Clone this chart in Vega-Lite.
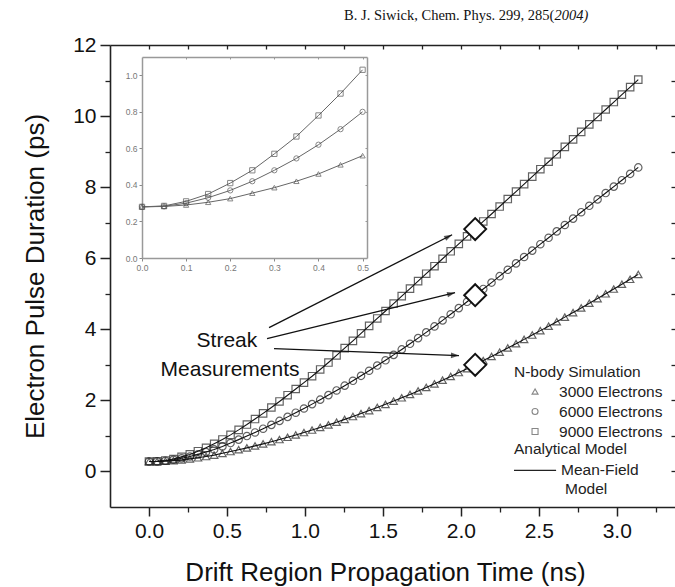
{
"$schema":"https://vega.github.io/schema/vega-lite/v6.json",
"width":566,"height":462,
"autosize":{"type":"none"},
"padding":{"left":110,"top":45,"right":0,"bottom":80},
"background":"white",
"config":{"view":{"stroke":null},"font":"Liberation Sans","axis":{"grid":false,"labelFont":"Liberation Sans","titleFont":"Liberation Sans","titleFontWeight":"normal","labelColor":"#111","titleColor":"#111","domainColor":"#222","tickColor":"#222"}},
"datasets":{
"main":[
{"x":0,"y":0.28,"n":"9000"},{"x":0.052,"y":0.285,"n":"9000"},{"x":0.105,"y":0.31,"n":"9000"},{"x":0.157,"y":0.35,"n":"9000"},{"x":0.209,"y":0.41,"n":"9000"},{"x":0.262,"y":0.48,"n":"9000"},{"x":0.314,"y":0.57,"n":"9000"},{"x":0.366,"y":0.665,"n":"9000"},{"x":0.418,"y":0.78,"n":"9000"},{"x":0.471,"y":0.9,"n":"9000"},{"x":0.523,"y":1.03,"n":"9000"},{"x":0.575,"y":1.17,"n":"9000"},{"x":0.628,"y":1.32,"n":"9000"},{"x":0.68,"y":1.475,"n":"9000"},{"x":0.732,"y":1.635,"n":"9000"},{"x":0.785,"y":1.8,"n":"9000"},{"x":0.837,"y":1.97,"n":"9000"},{"x":0.889,"y":2.145,"n":"9000"},{"x":0.941,"y":2.32,"n":"9000"},{"x":0.994,"y":2.5,"n":"9000"},{"x":1.046,"y":2.68,"n":"9000"},{"x":1.098,"y":2.87,"n":"9000"},{"x":1.151,"y":3.065,"n":"9000"},{"x":1.203,"y":3.265,"n":"9000"},{"x":1.255,"y":3.47,"n":"9000"},{"x":1.308,"y":3.675,"n":"9000"},{"x":1.36,"y":3.885,"n":"9000"},{"x":1.412,"y":4.095,"n":"9000"},{"x":1.464,"y":4.305,"n":"9000"},{"x":1.517,"y":4.515,"n":"9000"},{"x":1.569,"y":4.725,"n":"9000"},{"x":1.621,"y":4.935,"n":"9000"},{"x":1.674,"y":5.145,"n":"9000"},{"x":1.726,"y":5.355,"n":"9000"},{"x":1.778,"y":5.565,"n":"9000"},{"x":1.831,"y":5.775,"n":"9000"},{"x":1.883,"y":5.985,"n":"9000"},{"x":1.935,"y":6.195,"n":"9000"},{"x":1.987,"y":6.405,"n":"9000"},{"x":2.04,"y":6.615,"n":"9000"},{"x":2.092,"y":6.825,"n":"9000"},{"x":2.144,"y":7.035,"n":"9000"},{"x":2.197,"y":7.245,"n":"9000"},{"x":2.249,"y":7.455,"n":"9000"},{"x":2.301,"y":7.665,"n":"9000"},{"x":2.354,"y":7.875,"n":"9000"},{"x":2.406,"y":8.085,"n":"9000"},{"x":2.458,"y":8.295,"n":"9000"},{"x":2.51,"y":8.505,"n":"9000"},{"x":2.563,"y":8.715,"n":"9000"},{"x":2.615,"y":8.925,"n":"9000"},{"x":2.667,"y":9.135,"n":"9000"},{"x":2.72,"y":9.345,"n":"9000"},{"x":2.772,"y":9.555,"n":"9000"},{"x":2.824,"y":9.765,"n":"9000"},{"x":2.877,"y":9.975,"n":"9000"},{"x":2.929,"y":10.185,"n":"9000"},{"x":2.981,"y":10.395,"n":"9000"},{"x":3.033,"y":10.605,"n":"9000"},{"x":3.086,"y":10.815,"n":"9000"},{"x":3.138,"y":11.025,"n":"9000"},
{"x":0,"y":0.28,"n":"6000"},{"x":0.052,"y":0.283,"n":"6000"},{"x":0.105,"y":0.3,"n":"6000"},{"x":0.157,"y":0.33,"n":"6000"},{"x":0.209,"y":0.37,"n":"6000"},{"x":0.262,"y":0.42,"n":"6000"},{"x":0.314,"y":0.48,"n":"6000"},{"x":0.366,"y":0.545,"n":"6000"},{"x":0.418,"y":0.62,"n":"6000"},{"x":0.471,"y":0.705,"n":"6000"},{"x":0.523,"y":0.8,"n":"6000"},{"x":0.575,"y":0.896,"n":"6000"},{"x":0.628,"y":0.996,"n":"6000"},{"x":0.68,"y":1.098,"n":"6000"},{"x":0.732,"y":1.203,"n":"6000"},{"x":0.785,"y":1.311,"n":"6000"},{"x":0.837,"y":1.422,"n":"6000"},{"x":0.889,"y":1.536,"n":"6000"},{"x":0.941,"y":1.653,"n":"6000"},{"x":0.994,"y":1.772,"n":"6000"},{"x":1.046,"y":1.895,"n":"6000"},{"x":1.098,"y":2.02,"n":"6000"},{"x":1.151,"y":2.149,"n":"6000"},{"x":1.203,"y":2.28,"n":"6000"},{"x":1.255,"y":2.414,"n":"6000"},{"x":1.308,"y":2.551,"n":"6000"},{"x":1.36,"y":2.691,"n":"6000"},{"x":1.412,"y":2.834,"n":"6000"},{"x":1.464,"y":2.98,"n":"6000"},{"x":1.517,"y":3.128,"n":"6000"},{"x":1.569,"y":3.28,"n":"6000"},{"x":1.621,"y":3.434,"n":"6000"},{"x":1.674,"y":3.592,"n":"6000"},{"x":1.726,"y":3.752,"n":"6000"},{"x":1.778,"y":3.915,"n":"6000"},{"x":1.831,"y":4.081,"n":"6000"},{"x":1.883,"y":4.25,"n":"6000"},{"x":1.935,"y":4.422,"n":"6000"},{"x":1.987,"y":4.597,"n":"6000"},{"x":2.04,"y":4.774,"n":"6000"},{"x":2.092,"y":4.955,"n":"6000"},{"x":2.144,"y":5.135,"n":"6000"},{"x":2.197,"y":5.315,"n":"6000"},{"x":2.249,"y":5.495,"n":"6000"},{"x":2.301,"y":5.675,"n":"6000"},{"x":2.354,"y":5.855,"n":"6000"},{"x":2.406,"y":6.035,"n":"6000"},{"x":2.458,"y":6.215,"n":"6000"},{"x":2.51,"y":6.395,"n":"6000"},{"x":2.563,"y":6.575,"n":"6000"},{"x":2.615,"y":6.755,"n":"6000"},{"x":2.667,"y":6.935,"n":"6000"},{"x":2.72,"y":7.115,"n":"6000"},{"x":2.772,"y":7.295,"n":"6000"},{"x":2.824,"y":7.475,"n":"6000"},{"x":2.877,"y":7.655,"n":"6000"},{"x":2.929,"y":7.835,"n":"6000"},{"x":2.981,"y":8.015,"n":"6000"},{"x":3.033,"y":8.195,"n":"6000"},{"x":3.086,"y":8.375,"n":"6000"},{"x":3.138,"y":8.555,"n":"6000"},
{"x":0,"y":0.28,"n":"3000"},{"x":0.052,"y":0.282,"n":"3000"},{"x":0.105,"y":0.29,"n":"3000"},{"x":0.157,"y":0.305,"n":"3000"},{"x":0.209,"y":0.325,"n":"3000"},{"x":0.262,"y":0.355,"n":"3000"},{"x":0.314,"y":0.385,"n":"3000"},{"x":0.366,"y":0.42,"n":"3000"},{"x":0.418,"y":0.46,"n":"3000"},{"x":0.471,"y":0.51,"n":"3000"},{"x":0.523,"y":0.56,"n":"3000"},{"x":0.575,"y":0.611,"n":"3000"},{"x":0.628,"y":0.664,"n":"3000"},{"x":0.68,"y":0.719,"n":"3000"},{"x":0.732,"y":0.777,"n":"3000"},{"x":0.785,"y":0.836,"n":"3000"},{"x":0.837,"y":0.898,"n":"3000"},{"x":0.889,"y":0.961,"n":"3000"},{"x":0.941,"y":1.027,"n":"3000"},{"x":0.994,"y":1.095,"n":"3000"},{"x":1.046,"y":1.165,"n":"3000"},{"x":1.098,"y":1.237,"n":"3000"},{"x":1.151,"y":1.311,"n":"3000"},{"x":1.203,"y":1.387,"n":"3000"},{"x":1.255,"y":1.466,"n":"3000"},{"x":1.308,"y":1.546,"n":"3000"},{"x":1.36,"y":1.629,"n":"3000"},{"x":1.412,"y":1.713,"n":"3000"},{"x":1.464,"y":1.8,"n":"3000"},{"x":1.517,"y":1.889,"n":"3000"},{"x":1.569,"y":1.98,"n":"3000"},{"x":1.621,"y":2.073,"n":"3000"},{"x":1.674,"y":2.168,"n":"3000"},{"x":1.726,"y":2.265,"n":"3000"},{"x":1.778,"y":2.365,"n":"3000"},{"x":1.831,"y":2.466,"n":"3000"},{"x":1.883,"y":2.57,"n":"3000"},{"x":1.935,"y":2.675,"n":"3000"},{"x":1.987,"y":2.783,"n":"3000"},{"x":2.04,"y":2.893,"n":"3000"},{"x":2.092,"y":3.005,"n":"3000"},{"x":2.144,"y":3.121,"n":"3000"},{"x":2.197,"y":3.237,"n":"3000"},{"x":2.249,"y":3.355,"n":"3000"},{"x":2.301,"y":3.475,"n":"3000"},{"x":2.354,"y":3.595,"n":"3000"},{"x":2.406,"y":3.717,"n":"3000"},{"x":2.458,"y":3.839,"n":"3000"},{"x":2.51,"y":3.963,"n":"3000"},{"x":2.563,"y":4.089,"n":"3000"},{"x":2.615,"y":4.215,"n":"3000"},{"x":2.667,"y":4.343,"n":"3000"},{"x":2.72,"y":4.471,"n":"3000"},{"x":2.772,"y":4.601,"n":"3000"},{"x":2.824,"y":4.733,"n":"3000"},{"x":2.877,"y":4.865,"n":"3000"},{"x":2.929,"y":4.999,"n":"3000"},{"x":2.981,"y":5.133,"n":"3000"},{"x":3.033,"y":5.269,"n":"3000"},{"x":3.086,"y":5.407,"n":"3000"},{"x":3.138,"y":5.545,"n":"3000"}
],
"inset":[
{"x":0,"y":0.28,"n":"9000"},{"x":0.05,"y":0.285,"n":"9000"},{"x":0.1,"y":0.31,"n":"9000"},{"x":0.15,"y":0.35,"n":"9000"},{"x":0.2,"y":0.41,"n":"9000"},{"x":0.25,"y":0.48,"n":"9000"},{"x":0.3,"y":0.57,"n":"9000"},{"x":0.35,"y":0.665,"n":"9000"},{"x":0.4,"y":0.78,"n":"9000"},{"x":0.45,"y":0.9,"n":"9000"},{"x":0.5,"y":1.03,"n":"9000"},
{"x":0,"y":0.28,"n":"6000"},{"x":0.05,"y":0.283,"n":"6000"},{"x":0.1,"y":0.3,"n":"6000"},{"x":0.15,"y":0.33,"n":"6000"},{"x":0.2,"y":0.37,"n":"6000"},{"x":0.25,"y":0.42,"n":"6000"},{"x":0.3,"y":0.48,"n":"6000"},{"x":0.35,"y":0.545,"n":"6000"},{"x":0.4,"y":0.62,"n":"6000"},{"x":0.45,"y":0.705,"n":"6000"},{"x":0.5,"y":0.8,"n":"6000"},
{"x":0,"y":0.28,"n":"3000"},{"x":0.05,"y":0.282,"n":"3000"},{"x":0.1,"y":0.29,"n":"3000"},{"x":0.15,"y":0.305,"n":"3000"},{"x":0.2,"y":0.325,"n":"3000"},{"x":0.25,"y":0.355,"n":"3000"},{"x":0.3,"y":0.385,"n":"3000"},{"x":0.35,"y":0.42,"n":"3000"},{"x":0.4,"y":0.46,"n":"3000"},{"x":0.45,"y":0.51,"n":"3000"},{"x":0.5,"y":0.56,"n":"3000"}
],
"streak":[{"x":2.092,"y":6.82},{"x":2.092,"y":4.96},{"x":2.092,"y":3.0}],
"arrows":[{"id":1,"x":0.77,"y":4.047,"x2":1.944,"y2":6.661},{"id":2,"x":0.757,"y":3.738,"x2":1.963,"y2":5.031},{"id":3,"x":0.802,"y":3.457,"x2":1.988,"y2":3.26}],
"notes":[{"x":0.5,"y":3.51,"t":"Streak"},{"x":0.52,"y":2.7,"t":"Measurements"}],
"cite1":[{"x":2.6,"y":12.7,"t":"B. J. Siwick, Chem. Phys. 299, 285("}],
"cite2":[{"x":2.6,"y":12.7,"t":"2004)"}],
"legtext":[{"x":2.341,"y":2.81,"t":"N-body Simulation"},{"x":2.63,"y":2.248,"t":"3000 Electrons"},{"x":2.63,"y":1.686,"t":"6000 Electrons"},{"x":2.63,"y":1.124,"t":"9000 Electrons"},{"x":2.341,"y":0.618,"t":"Analytical Model"},{"x":2.643,"y":0.028,"t":"Mean-Field"},{"x":2.668,"y":-0.506,"t":"Model"}],
"legsym":[{"x":2.476,"y":2.248,"n":"3000"},{"x":2.476,"y":1.686,"n":"6000"},{"x":2.476,"y":1.124,"n":"9000"}],
"legline":[{"x":2.341,"x2":2.611,"y":0.028}]
},
"layer":[
{
"layer":[
{"data":{"name":"main"},"mark":{"type":"point","filled":false,"color":"#222","strokeWidth":1.2,"size":55},
"encoding":{
"x":{"field":"x","type":"quantitative","scale":{"domain":[-0.25,3.38],"nice":false,"zero":false},"axis":{"orient":"bottom","values":[0,0.5,1,1.5,2,2.5,3],"format":".1f","title":"Drift Region Propagation Time (ns)","titleFontSize":26,"titleX":275,"titleY":73,"titleBaseline":"alphabetic","labelFontSize":21,"labelPadding":4,"tickSize":9,"tickWidth":1.5,"domainWidth":1.6,"labelFlush":false,"labelOverlap":false}},
"y":{"field":"y","type":"quantitative","scale":{"domain":[-1,12],"nice":false,"zero":false},"axis":{"orient":"left","values":[0,2,4,6,8,10,12],"format":"d","title":"Electron Pulse Duration (ps)","titleFontSize":26,"titlePadding":24,"labelFontSize":21,"labelPadding":4,"tickSize":10,"tickWidth":1.5,"domainWidth":1.6,"labelOverlap":false}},
"shape":{"field":"n","type":"nominal","scale":{"domain":["3000","6000","9000"],"range":["triangle-up","circle","square"]},"legend":null}}},
{"data":{"name":"main"},"mark":{"type":"line","color":"#111","strokeWidth":1.1},
"encoding":{
"x":{"field":"x","type":"quantitative","scale":{"domain":[-0.25,3.38],"nice":false,"zero":false},"axis":{"orient":"bottom","values":[0.25,0.75,1.25,1.75,2.25,2.75,3.25],"labels":false,"title":null,"domain":false,"tickSize":5,"tickWidth":1.3}},
"y":{"field":"y","type":"quantitative","scale":{"domain":[-1,12],"nice":false,"zero":false},"axis":{"orient":"left","values":[1,3,5,7,9,11],"labels":false,"title":null,"domain":false,"tickSize":5,"tickWidth":1.3}},
"detail":{"field":"n"}}},
{"data":{"name":"streak"},"mark":{"type":"point","shape":"diamond","filled":true,"fill":"white","stroke":"#111","strokeWidth":2,"size":480,"opacity":1},
"encoding":{
"x":{"field":"x","type":"quantitative","scale":{"domain":[-0.25,3.38],"nice":false,"zero":false},"axis":{"orient":"top","values":[0,0.25,0.5,0.75,1,1.25,1.5,1.75,2,2.25,2.5,2.75,3,3.25],"labels":false,"title":null,"tickSize":-4,"tickWidth":1.3,"domainWidth":1.6}},
"y":{"field":"y","type":"quantitative","scale":{"domain":[-1,12],"nice":false,"zero":false},"axis":{"orient":"right","values":[0,1,2,3,4,5,6,7,8,9,10,11],"labels":false,"title":null,"tickSize":-5,"tickWidth":1.3,"domainWidth":1.6}}}},
{"data":{"name":"arrows"},"mark":{"type":"rule","color":"#111","strokeWidth":1.3},
"encoding":{
"x":{"field":"x","type":"quantitative","scale":{"domain":[-0.25,3.38],"nice":false,"zero":false},"axis":null},
"y":{"field":"y","type":"quantitative","scale":{"domain":[-1,12],"nice":false,"zero":false},"axis":null},
"x2":{"field":"x2"},"y2":{"field":"y2"}}},
{"data":{"name":"arrows"},"transform":[{"filter":"datum.id==1"}],"mark":{"type":"point","shape":"M0,0L-2,-0.7L-2,0.7Z","filled":true,"color":"#111","size":64,"angle":333},
"encoding":{
"x":{"field":"x2","type":"quantitative","scale":{"domain":[-0.25,3.38],"nice":false,"zero":false},"axis":null},
"y":{"field":"y2","type":"quantitative","scale":{"domain":[-1,12],"nice":false,"zero":false},"axis":null}}},
{"data":{"name":"arrows"},"transform":[{"filter":"datum.id==2"}],"mark":{"type":"point","shape":"M0,0L-2,-0.7L-2,0.7Z","filled":true,"color":"#111","size":64,"angle":346},
"encoding":{
"x":{"field":"x2","type":"quantitative","scale":{"domain":[-0.25,3.38],"nice":false,"zero":false},"axis":null},
"y":{"field":"y2","type":"quantitative","scale":{"domain":[-1,12],"nice":false,"zero":false},"axis":null}}},
{"data":{"name":"arrows"},"transform":[{"filter":"datum.id==3"}],"mark":{"type":"point","shape":"M0,0L-2,-0.7L-2,0.7Z","filled":true,"color":"#111","size":64,"angle":2},
"encoding":{
"x":{"field":"x2","type":"quantitative","scale":{"domain":[-0.25,3.38],"nice":false,"zero":false},"axis":null},
"y":{"field":"y2","type":"quantitative","scale":{"domain":[-1,12],"nice":false,"zero":false},"axis":null}}},
{"data":{"name":"notes"},"mark":{"type":"text","fontSize":21,"align":"center","baseline":"alphabetic","color":"#111"},
"encoding":{
"x":{"field":"x","type":"quantitative","scale":{"domain":[-0.25,3.38],"nice":false,"zero":false},"axis":null},
"y":{"field":"y","type":"quantitative","scale":{"domain":[-1,12],"nice":false,"zero":false},"axis":null},
"text":{"field":"t"}}},
{"data":{"name":"cite1"},"mark":{"type":"text","font":"Liberation Serif","fontSize":14.5,"align":"right","baseline":"alphabetic","color":"#111"},
"encoding":{
"x":{"field":"x","type":"quantitative","scale":{"domain":[-0.25,3.38],"nice":false,"zero":false},"axis":null},
"y":{"field":"y","type":"quantitative","scale":{"domain":[-1,12],"nice":false,"zero":false},"axis":null},
"text":{"field":"t"}}},
{"data":{"name":"cite2"},"mark":{"type":"text","font":"Liberation Serif","fontStyle":"italic","fontSize":14.5,"align":"left","baseline":"alphabetic","color":"#111"},
"encoding":{
"x":{"field":"x","type":"quantitative","scale":{"domain":[-0.25,3.38],"nice":false,"zero":false},"axis":null},
"y":{"field":"y","type":"quantitative","scale":{"domain":[-1,12],"nice":false,"zero":false},"axis":null},
"text":{"field":"t"}}},
{"data":{"name":"legtext"},"mark":{"type":"text","fontSize":15.5,"align":"left","baseline":"middle","color":"#222"},
"encoding":{
"x":{"field":"x","type":"quantitative","scale":{"domain":[-0.25,3.38],"nice":false,"zero":false},"axis":null},
"y":{"field":"y","type":"quantitative","scale":{"domain":[-1,12],"nice":false,"zero":false},"axis":null},
"text":{"field":"t"}}},
{"data":{"name":"legsym"},"mark":{"type":"point","filled":false,"color":"#555","strokeWidth":1.1,"size":36},
"encoding":{
"x":{"field":"x","type":"quantitative","scale":{"domain":[-0.25,3.38],"nice":false,"zero":false},"axis":null},
"y":{"field":"y","type":"quantitative","scale":{"domain":[-1,12],"nice":false,"zero":false},"axis":null},
"shape":{"field":"n","type":"nominal","scale":{"domain":["3000","6000","9000"],"range":["triangle-up","circle","square"]},"legend":null}}},
{"data":{"name":"legline"},"mark":{"type":"rule","color":"#222","strokeWidth":1.2},
"encoding":{
"x":{"field":"x","type":"quantitative","scale":{"domain":[-0.25,3.38],"nice":false,"zero":false},"axis":null},
"y":{"field":"y","type":"quantitative","scale":{"domain":[-1,12],"nice":false,"zero":false},"axis":null},
"x2":{"field":"x2"}}}
],
"resolve":{"axis":{"x":"independent","y":"independent"}}
},
{
"layer":[
{"data":{"name":"inset"},"mark":{"type":"line","color":"#666","strokeWidth":1},
"encoding":{
"x":{"field":"x","type":"quantitative","scale":{"domain":[0,0.51],"range":[32,257],"nice":false,"zero":false},"axis":{"orient":"bottom","offset":-249,"values":[0,0.1,0.2,0.3,0.4,0.5],"format":".1f","labelFontSize":8.5,"labelColor":"#777","labelPadding":2,"tickSize":3,"tickColor":"#888","domainColor":"#999","domainWidth":1.5,"title":null,"labelFlush":false,"labelOverlap":false}},
"y":{"field":"y","type":"quantitative","scale":{"domain":[0,1.1],"range":[213,12],"nice":false,"zero":false},"axis":{"orient":"left","offset":-32,"values":[0,0.2,0.4,0.6,0.8,1.0],"format":".1f","labelFontSize":8.5,"labelColor":"#777","labelPadding":2,"tickSize":3,"tickColor":"#888","domainColor":"#999","domainWidth":1.5,"title":null,"labelOverlap":false}},
"detail":{"field":"n"}}},
{"data":{"name":"inset"},"mark":{"type":"point","filled":false,"color":"#555","strokeWidth":1,"size":28},
"encoding":{
"x":{"field":"x","type":"quantitative","scale":{"domain":[0,0.51],"range":[32,257],"nice":false,"zero":false},"axis":{"orient":"top","offset":-12,"values":[0.1,0.2,0.3,0.4,0.5],"labels":false,"title":null,"tickSize":-2,"tickColor":"#999","domainColor":"#999","domainWidth":1.5}},
"y":{"field":"y","type":"quantitative","scale":{"domain":[0,1.1],"range":[213,12],"nice":false,"zero":false},"axis":{"orient":"right","offset":-309,"values":[0.2,0.4,0.6,0.8,1.0],"labels":false,"title":null,"tickSize":-2,"tickColor":"#999","domainColor":"#999","domainWidth":1.5}},
"shape":{"field":"n","type":"nominal","scale":{"domain":["3000","6000","9000"],"range":["triangle-up","circle","square"]},"legend":null}}}
],
"resolve":{"axis":{"x":"independent","y":"independent"}}
}
],
"resolve":{"scale":{"x":"independent","y":"independent"},"axis":{"x":"independent","y":"independent"}}
}
